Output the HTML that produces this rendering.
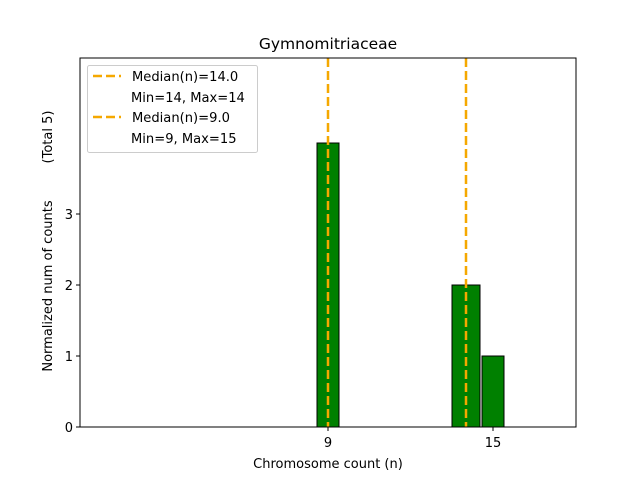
<!DOCTYPE html>
<html><head><style>body{margin:0;background:#fff}</style></head><body>
<svg width="640" height="480" xmlns="http://www.w3.org/2000/svg" font-family="'DejaVu Sans','Liberation Sans',sans-serif">
<rect width="640" height="480" fill="#fff"/>
<rect x="317" y="143" width="22" height="284" fill="#008000" stroke="#000" stroke-width="1"/>
<rect x="452" y="285" width="28" height="142" fill="#008000" stroke="#000" stroke-width="1"/>
<rect x="482" y="356" width="22" height="71" fill="#008000" stroke="#000" stroke-width="1"/>
<line x1="328" y1="58" x2="328" y2="427" stroke="#f5a800" stroke-width="2.5" stroke-dasharray="9,4"/>
<line x1="466" y1="58" x2="466" y2="427" stroke="#f5a800" stroke-width="2.5" stroke-dasharray="9,4"/>
<rect x="80" y="58" width="496" height="369" fill="none" stroke="#000" stroke-width="1"/>
<g stroke="#000"><line x1="76" y1="427" x2="80" y2="427"/><line x1="76" y1="356" x2="80" y2="356"/><line x1="76" y1="285" x2="80" y2="285"/><line x1="76" y1="214" x2="80" y2="214"/>
<line x1="328" y1="427" x2="328" y2="431"/><line x1="493" y1="427" x2="493" y2="431"/></g>
<g font-size="13" fill="#000" text-anchor="end"><text x="73" y="432">0</text><text x="73" y="361">1</text><text x="73" y="290">2</text><text x="73" y="219">3</text></g>
<g font-size="13" text-anchor="middle"><text x="328" y="447">9</text><text x="493" y="447">15</text>
<text x="328" y="468">Chromosome count (n)</text>
<text x="328" y="49" font-size="15.5">Gymnomitriaceae</text>
<text transform="translate(52,286) rotate(-90)">Normalized num of counts</text>
<text transform="translate(52,137) rotate(-90)">(Total 5)</text></g>
<rect x="87.5" y="65.5" width="170" height="87" rx="2" fill="#fff" stroke="#ccc"/>
<g stroke="#f5a800" stroke-width="2.5" stroke-dasharray="9,4"><line x1="93" y1="76" x2="121" y2="76"/><line x1="93" y1="117" x2="121" y2="117"/></g>
<g font-size="13.1"><text x="132" y="81">Median(n)=14.0</text><text x="131" y="102">Min=14, Max=14</text><text x="132" y="122">Median(n)=9.0</text><text x="131" y="143">Min=9, Max=15</text></g>
</svg>
</body></html>
